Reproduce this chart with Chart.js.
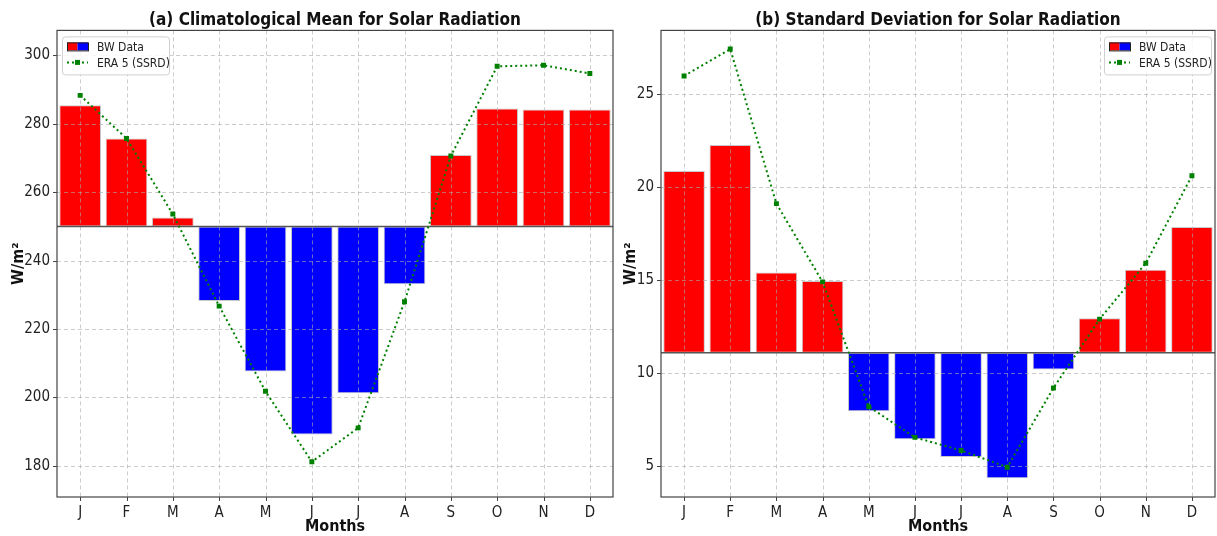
<!DOCTYPE html>
<html>
<head>
<meta charset="utf-8">
<title>Solar Radiation</title>
<script src="https://cdn.jsdelivr.net/npm/chart.js@4.4.1/dist/chart.umd.min.js"></script>
<style>
  html, body { margin: 0; padding: 0; background: #fff; }
  #wrap { position: relative; width: 1217px; height: 536px; overflow: hidden; }
  #chartA { position: absolute; left: 0; top: 0; }
  #chartB { position: absolute; left: 617px; top: 0; }
</style>
</head>
<body>
<div id="wrap">
  <canvas id="chartA" width="617" height="536"></canvas>
  <canvas id="chartB" width="602" height="536"></canvas>
</div>
<script>
const months = ['J', 'F', 'M', 'A', 'M', 'J', 'J', 'A', 'S', 'O', 'N', 'D'];

// (a) monthly mean, W/m²
const bwMean = [285.4, 275.7, 252.6, 228.2, 207.6, 189.2, 201.2, 233.1, 270.9, 284.5, 284.2, 284.2];
const eraMean = [288.3, 275.7, 253.6, 226.7, 201.8, 181.2, 191.1, 228.0, 270.6, 296.8, 297.1, 294.7];
const meanBase = 250;
const meanTicks = [180, 200, 220, 240, 260, 280, 300];

// (b) monthly standard deviation, W/m²
const bwStd = [20.85, 22.25, 15.4, 14.95, 7.95, 6.45, 5.5, 4.35, 10.2, 12.95, 15.55, 17.85];
const eraStd = [25.95, 27.4, 19.1, 14.9, 8.2, 6.55, 5.85, 4.95, 9.2, 12.9, 15.9, 20.6];
const stdBase = 11.1;
const stdTicks = [5, 10, 15, 20, 25];

const FONT = "'DejaVu Sans Condensed', 'DejaVu Sans', sans-serif";
Chart.defaults.font.family = FONT;
Chart.defaults.color = '#222';

// dashed grid on top of the bars, baseline, frame, tick marks and the legend box
const overlay = {
  id: 'overlay',
  afterDatasetDraw(chart, args) {
    if (args.meta.type !== 'bar') return;
    const { ctx, chartArea: a, scales: { x, y } } = chart;
    ctx.save();
    ctx.strokeStyle = 'rgba(170,170,170,0.6)';
    ctx.lineWidth = 1;
    ctx.setLineDash([4, 3]);
    ctx.beginPath();
    x.ticks.forEach((t, i) => {
      const px = Math.round(x.getPixelForTick(i)) + 0.5;
      ctx.moveTo(px, a.top); ctx.lineTo(px, a.bottom);
    });
    y.ticks.forEach(t => {
      const py = Math.round(y.getPixelForValue(t.value)) + 0.5;
      ctx.moveTo(a.left, py); ctx.lineTo(a.right, py);
    });
    ctx.stroke();
    ctx.setLineDash([]);
    const base = chart.options.plugins.overlay.base;
    const by = y.getPixelForValue(base);
    ctx.strokeStyle = '#555';
    ctx.lineWidth = 1.5;
    ctx.beginPath();
    ctx.moveTo(a.left, by); ctx.lineTo(a.right, by);
    ctx.stroke();
    ctx.restore();
  },
  afterDraw(chart, args, opts) {
    const { ctx, chartArea: a, scales: { x, y } } = chart;
    ctx.save();
    ctx.strokeStyle = '#444';
    ctx.lineWidth = 1.2;
    ctx.strokeRect(a.left, a.top, a.right - a.left, a.bottom - a.top);

    // outward tick marks
    ctx.lineWidth = 1;
    ctx.beginPath();
    x.ticks.forEach((t, i) => {
      const px = Math.round(x.getPixelForTick(i)) + 0.5;
      ctx.moveTo(px, a.bottom); ctx.lineTo(px, a.bottom + 4);
    });
    y.ticks.forEach(t => {
      const py = Math.round(y.getPixelForValue(t.value)) + 0.5;
      ctx.moveTo(a.left, py); ctx.lineTo(a.left - 4, py);
    });
    ctx.stroke();

    // legend
    const w = 107, h = 38;
    const lx = opts.legendSide === 'left' ? a.left + 5 : a.right - 4 - w;
    const ly = a.top + 6;
    ctx.fillStyle = 'rgba(255,255,255,0.85)';
    ctx.strokeStyle = '#d0d0d0';
    ctx.lineWidth = 1;
    ctx.beginPath();
    ctx.roundRect(lx + 0.5, ly + 0.5, w, h, 3);
    ctx.fill();
    ctx.stroke();

    const hx = lx + 5, hw = 21;
    const r1 = ly + 10, r2 = ly + 26;
    ctx.fillStyle = 'red';
    ctx.fillRect(hx, r1 - 4, hw / 2, 8);
    ctx.fillStyle = 'blue';
    ctx.fillRect(hx + hw / 2, r1 - 4, hw / 2, 8);
    ctx.strokeStyle = '#222';
    ctx.strokeRect(hx + 0.5, r1 - 3.5, hw, 8);

    ctx.strokeStyle = 'green';
    ctx.lineWidth = 2;
    ctx.setLineDash([2, 3]);
    ctx.beginPath();
    ctx.moveTo(hx, r2); ctx.lineTo(hx + hw, r2);
    ctx.stroke();
    ctx.setLineDash([]);
    ctx.fillStyle = 'green';
    ctx.fillRect(hx + hw / 2 - 2.5, r2 - 2.5, 5, 5);

    ctx.fillStyle = '#222';
    ctx.font = '12px ' + FONT;
    ctx.textBaseline = 'middle';
    ctx.fillText('BW Data', hx + 30, r1 + 1);
    ctx.fillText('ERA 5 (SSRD)', hx + 30, r2 + 1);
    ctx.restore();
  }
};

function makeChart(id, cfg) {
  const bars = cfg.bw.map(v => [cfg.base, v]);
  return new Chart(document.getElementById(id), {
    data: {
      labels: months,
      datasets: [
        {
          type: 'line',
          label: 'ERA 5 (SSRD)',
          data: cfg.era,
          borderColor: 'green',
          borderWidth: 2,
          borderDash: [2, 3],
          pointStyle: 'rect',
          pointRadius: 3.5,
          pointBackgroundColor: 'green',
          pointBorderWidth: 0,
          order: 0
        },
        {
          type: 'bar',
          label: 'BW Data',
          data: bars,
          backgroundColor: cfg.bw.map(v => v >= cfg.base ? 'red' : 'blue'),
          borderColor: '#c8c8c8',
          borderWidth: 1,
          borderSkipped: false,
          barPercentage: 0.9,
          categoryPercentage: 1.0,
          order: 1
        }
      ]
    },
    options: {
      responsive: false,
      animation: false,
      devicePixelRatio: 1,
      layout: { padding: { left: 0, right: cfg.padRight, top: 0, bottom: 0 } },
      plugins: {
        legend: { display: false },
        tooltip: { enabled: false },
        title: {
          display: true,
          fullSize: false,
          text: cfg.title,
          color: '#111',
          font: { size: 17, weight: 'bold' },
          padding: { top: 10, bottom: 0 }
        },
        overlay: { base: cfg.base, legendSide: cfg.legendSide }
      },
      scales: {
        x: {
          offset: true,
          grid: { drawOnChartArea: false, tickLength: 5, tickColor: 'rgba(0,0,0,0)' },
          border: { display: false },
          ticks: { font: { size: 15 }, color: '#222', padding: 2, maxRotation: 0 },
          title: { display: true, text: 'Months', font: { size: 16, weight: 'bold' }, color: '#111', padding: 0 },
          afterFit(s) { s.height = 39; }
        },
        y: {
          min: cfg.min,
          max: cfg.max,
          grid: { drawOnChartArea: false, tickLength: 5, tickColor: 'rgba(0,0,0,0)' },
          border: { display: false },
          ticks: { font: { size: 15 }, color: '#222', padding: 2 },
          afterBuildTicks(s) { s.ticks = cfg.ticks.map(v => ({ value: v })); },
          title: { display: true, text: 'W/m²', font: { size: 16, weight: 'bold' }, color: '#111', padding: { top: cfg.titlePad, bottom: 0 } },
          afterFit(s) { s.width = cfg.axisWidth; }
        }
      }
    },
    plugins: [overlay]
  });
}

makeChart('chartA', {
  title: '(a) Climatological Mean for Solar Radiation',
  bw: bwMean, era: eraMean, base: meanBase, ticks: meanTicks,
  min: 170.9, max: 307.3, axisWidth: 57, padRight: 4, legendSide: 'left', titlePad: 9
});

makeChart('chartB', {
  title: '(b) Standard Deviation for Solar Radiation',
  bw: bwStd, era: eraStd, base: stdBase, ticks: stdTicks,
  min: 3.35, max: 28.4, axisWidth: 44, padRight: 1, legendSide: 'right', titlePad: 4
});
</script>
</body>
</html>
